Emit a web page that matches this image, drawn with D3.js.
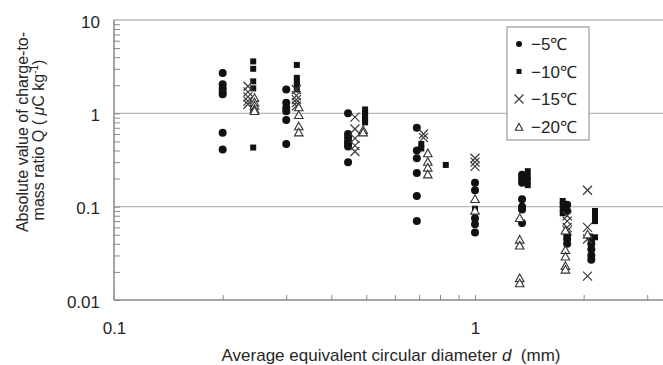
<!DOCTYPE html>
<html>
<head>
<meta charset="utf-8">
<script src="https://cdn.jsdelivr.net/npm/d3@7"></script>
<style>
  html, body { margin: 0; padding: 0; background: #fff; }
  svg { display: block; font-family: "Liberation Sans", Arial, sans-serif; }
</style>
</head>
<body>
<svg id="chart" width="663" height="365"></svg>
<script>
// ---- Data (diameter d in mm, |Q| in µC/kg) ----
const seriesNames = ["\u22125\u2103", "\u221210\u2103", "\u221215\u2103", "\u221220\u2103"];

const minus5 = [
  [0.2, 2.7], [0.2, 2.05], [0.2, 1.85], [0.2, 1.7], [0.2, 1.6], [0.2, 0.62], [0.2, 0.41],
  [0.3, 1.8], [0.3, 1.3], [0.3, 1.15], [0.3, 1.05], [0.3, 0.85], [0.3, 0.47],
  [0.445, 1.0], [0.445, 0.6], [0.445, 0.55], [0.445, 0.5], [0.445, 0.47], [0.445, 0.44], [0.445, 0.3],
  [0.69, 0.7], [0.69, 0.4], [0.69, 0.33], [0.69, 0.23], [0.69, 0.13], [0.69, 0.07],
  [1.0, 0.18], [1.0, 0.15], [1.0, 0.075], [1.0, 0.065], [1.0, 0.053],
  [1.35, 0.22], [1.35, 0.2], [1.35, 0.18], [1.35, 0.12], [1.35, 0.1], [1.35, 0.093], [1.35, 0.067],
  [1.8, 0.105], [1.8, 0.09], [1.8, 0.05], [1.8, 0.045], [1.8, 0.04],
  [2.1, 0.045], [2.1, 0.04], [2.1, 0.035], [2.1, 0.03], [2.1, 0.027]
];

const minus10 = [
  [0.243, 3.6], [0.243, 3.0], [0.243, 2.2], [0.243, 1.85], [0.243, 1.08], [0.243, 0.43],
  [0.321, 3.3], [0.321, 2.4], [0.321, 2.2], [0.321, 2.0], [0.321, 1.8],
  [0.496, 1.1], [0.496, 1.0], [0.496, 0.92], [0.496, 0.85], [0.496, 0.8],
  [0.71, 0.47], [0.71, 0.42],
  [0.83, 0.28],
  [1.0, 0.095],
  [1.4, 0.24], [1.4, 0.21], [1.4, 0.19], [1.4, 0.17],
  [1.75, 0.115], [1.75, 0.105], [1.75, 0.095], [1.75, 0.085],
  [2.15, 0.09], [2.15, 0.08], [2.15, 0.07], [2.08, 0.048], [2.15, 0.047]
];

const minus15 = [
  [0.235, 1.95], [0.235, 1.7], [0.235, 1.5], [0.235, 1.35], [0.235, 1.25],
  [0.32, 1.8], [0.32, 1.55], [0.32, 1.4], [0.32, 1.3], [0.32, 1.2],
  [0.465, 0.91], [0.465, 0.68], [0.465, 0.54], [0.465, 0.45], [0.465, 0.39],
  [0.72, 0.6], [0.72, 0.55],
  [1.0, 0.33], [1.0, 0.3], [1.0, 0.27],
  [1.8, 0.08], [1.8, 0.07], [1.8, 0.06], [1.8, 0.055],
  [2.05, 0.15], [2.05, 0.06], [2.05, 0.045], [2.05, 0.018]
];

const minus20 = [
  [0.245, 1.45], [0.245, 1.3], [0.245, 1.2], [0.245, 1.1], [0.245, 1.05],
  [0.325, 1.15], [0.325, 0.95], [0.325, 0.72], [0.325, 0.62],
  [0.49, 0.66], [0.49, 0.62],
  [0.74, 0.37], [0.74, 0.3], [0.74, 0.26], [0.74, 0.22],
  [1.0, 0.12], [1.0, 0.09],
  [1.33, 0.075], [1.33, 0.044], [1.33, 0.038], [1.33, 0.017], [1.33, 0.015],
  [1.78, 0.055], [1.78, 0.034], [1.78, 0.029], [1.78, 0.023], [1.78, 0.021],
  [2.05, 0.05]
];

const yMajorTicks = [0.01, 0.1, 1, 10];
const xMajorTicks = [0.1, 1];
const yTickLabels = ["0.01", "0.1", "1", "10"];
const xTickLabels = ["0.1", "1"];

// ---- Layout ----
const svg = d3.select("#chart");
const plotLeft = 114, plotTop = 20, plotBottom = 300, plotRight = 663, decadeX = 361;
const xMin = 0.1, xMax = 4;

const x = d3.scaleLog().domain([xMin, xMax])
  .range([plotLeft, plotLeft + decadeX * Math.log10(xMax / xMin)]);
const y = d3.scaleLog().domain([0.01, 10]).range([plotBottom, plotTop]);

const axisCol = "#8a8a8a", gridCol = "#b8b8b8", textCol = "#262626";

svg.append("rect").attr("width", 663).attr("height", 365).attr("fill", "#fff");

// minor tick values
function logTicks(lo, hi) {
  const out = [];
  for (let e = Math.floor(Math.log10(lo)); e < Math.ceil(Math.log10(hi)); e++) {
    for (let k = 1; k <= 9; k++) {
      const v = k * Math.pow(10, e);
      if (v >= lo * 0.999 && v <= hi * 1.001) out.push(v);
    }
  }
  return out;
}

// gridlines (10, 1, 0.1)
svg.append("g").selectAll("line").data([10, 1, 0.1]).join("line")
  .attr("x1", plotLeft).attr("x2", plotRight)
  .attr("y1", d => y(d)).attr("y2", d => y(d))
  .attr("stroke", gridCol).attr("stroke-width", 1.3);

// y inward ticks
const yTickAxis = d3.axisRight(y).tickValues(logTicks(0.01, 10)).tickSize(6).tickFormat("");
const gy = svg.append("g").attr("transform", `translate(${plotLeft},0)`).call(yTickAxis);
gy.select(".domain").remove();
gy.selectAll(".tick line").attr("stroke", axisCol);

// x inward ticks
const xTickAxis = d3.axisTop(x).tickValues(logTicks(0.1, 3.5)).tickSize(5).tickFormat("");
const gx = svg.append("g").attr("transform", `translate(0,${plotBottom})`).call(xTickAxis);
gx.select(".domain").remove();
gx.selectAll(".tick line").attr("stroke", axisCol);

// axis lines
svg.append("line").attr("x1", plotLeft).attr("x2", plotLeft).attr("y1", plotTop).attr("y2", plotBottom)
  .attr("stroke", axisCol).attr("stroke-width", 1.5);
svg.append("line").attr("x1", plotLeft).attr("x2", plotRight).attr("y1", plotBottom).attr("y2", plotBottom)
  .attr("stroke", axisCol).attr("stroke-width", 1.5);

// y labels
const yLab = d3.axisLeft(y).tickValues(yMajorTicks).tickSize(0).tickPadding(14)
  .tickFormat((d, i) => yTickLabels[i]);
const gyl = svg.append("g").attr("transform", `translate(${plotLeft},0)`).call(yLab);
gyl.select(".domain").remove();
gyl.selectAll("text").attr("font-size", 17).attr("fill", textCol)
  .attr("font-family", "Liberation Sans, Arial, sans-serif").attr("dy", "0.42em");

// x labels
const xLab = d3.axisBottom(x).tickValues(xMajorTicks).tickSize(0).tickPadding(22)
  .tickFormat((d, i) => xTickLabels[i]);
const gxl = svg.append("g").attr("transform", `translate(0,${plotBottom})`).call(xLab);
gxl.select(".domain").remove();
gxl.selectAll("text").attr("font-size", 17).attr("fill", textCol)
  .attr("font-family", "Liberation Sans, Arial, sans-serif");

// ---- Marks ----
const dark = "#111";
function drawCircle(g, cx, cy, r) {
  g.append("circle").attr("cx", cx).attr("cy", cy).attr("r", r).attr("fill", dark);
}
function drawSquare(g, cx, cy, s) {
  g.append("rect").attr("x", cx - s / 2).attr("y", cy - s / 2).attr("width", s).attr("height", s).attr("fill", dark);
}
function drawCross(g, cx, cy, s) {
  g.append("path").attr("d", `M${cx - s},${cy - s}L${cx + s},${cy + s}M${cx - s},${cy + s}L${cx + s},${cy - s}`)
    .attr("stroke", "#3a3a3a").attr("stroke-width", 1.2).attr("fill", "none");
}
function drawTriangle(g, cx, cy, s) {
  g.append("path").attr("d", `M${cx},${cy - s}L${cx + s * 0.95},${cy + s * 0.7}L${cx - s * 0.95},${cy + s * 0.7}Z`)
    .attr("stroke", "#333").attr("stroke-width", 1.1).attr("fill", "#fff");
}

const gm = svg.append("g");
minus5.forEach(d => drawCircle(gm, x(d[0]), y(d[1]), 4));
minus10.forEach(d => drawSquare(gm, x(d[0]), y(d[1]), 6));
minus15.forEach(d => drawCross(gm, x(d[0]), y(d[1]), 4.5));
minus20.forEach(d => drawTriangle(gm, x(d[0]), y(d[1]), 4.5));

// ---- Legend ----
const lg = svg.append("g");
lg.append("rect").attr("x", 507).attr("y", 27).attr("width", 82).attr("height", 113)
  .attr("fill", "#fff").attr("stroke", "#9a9a9a").attr("stroke-width", 1.2);
const legY = [44, 71.5, 99, 126.5];
drawCircle(lg, 519, legY[0], 3);
drawSquare(lg, 519, legY[1], 5);
drawCross(lg, 519, legY[2], 4.5);
drawTriangle(lg, 519, legY[3] + 1, 4);
seriesNames.forEach((t, i) => {
  lg.append("text").attr("x", 531).attr("y", legY[i]).attr("dy", "0.36em")
    .attr("font-size", 17).attr("fill", textCol).text(t);
});

// ---- Axis titles ----
const xt = svg.append("text").attr("x", 391).attr("y", 361)
  .attr("text-anchor", "middle").attr("font-size", 17).attr("fill", textCol);
xt.append("tspan").text("Average equivalent circular diameter ");
xt.append("tspan").attr("font-style", "italic").text("d");
xt.append("tspan").attr("xml:space", "preserve").text("\u00a0 (mm)");

svg.append("text").attr("transform", "translate(27.5,132) rotate(-90)")
  .attr("text-anchor", "middle").attr("font-size", 16).attr("fill", textCol)
  .text("Absolute value of charge-to-");
const yt2 = svg.append("text").attr("transform", "translate(44,140) rotate(-90)")
  .attr("text-anchor", "middle").attr("font-size", 16).attr("fill", textCol);
yt2.append("tspan").text("mass ratio Q (\u00a0");
yt2.append("tspan").attr("font-style", "italic").text("\u03bc");
yt2.append("tspan").text("C kg");
yt2.append("tspan").attr("font-size", 10).attr("dy", -6).text("-1");
yt2.append("tspan").attr("dy", 6).text(")");
</script>
</body>
</html>
